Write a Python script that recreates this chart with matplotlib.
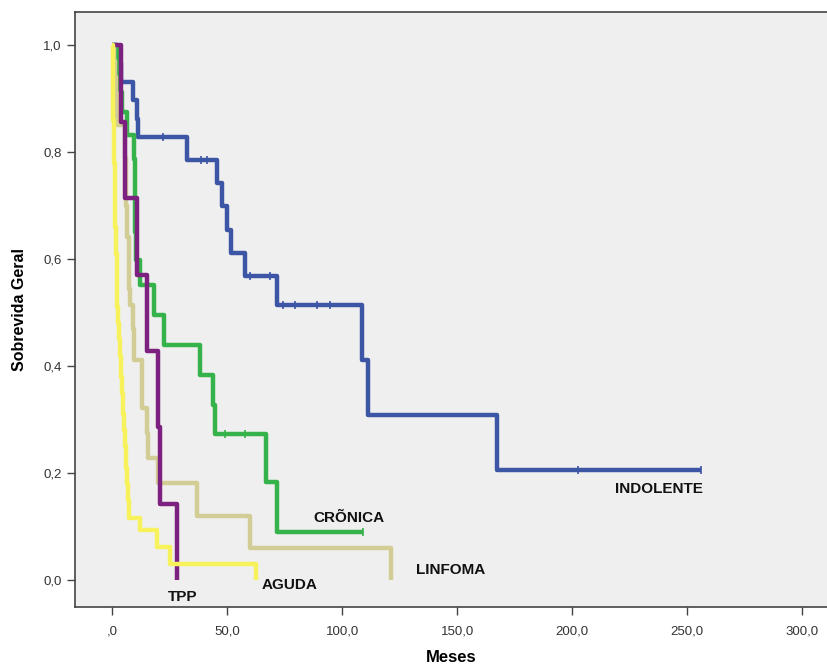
import numpy as np
import matplotlib
matplotlib.use("Agg")
import matplotlib.pyplot as plt

plt.rcParams['font.family'] = ['Liberation Sans', 'DejaVu Sans']

# Kaplan-Meier curves (months, survival after each drop)
indolente_t = [2.0, 3.7, 9.1, 10.5, 11.2, 32.4, 45.7, 47.6, 49.7, 51.6, 57.8, 71.5, 108.5, 111.4, 167.5]
indolente_s = [0.966, 0.931, 0.897, 0.862, 0.828, 0.786, 0.743, 0.699, 0.655, 0.611, 0.568, 0.514, 0.411, 0.308, 0.206]
indolente_end = 256.0
indolente_cens = [22.0, 38.4, 41.0, 59.9, 68.6, 74.4, 79.5, 88.9, 94.8, 202.7, 256.0]

cronica_t = [2.0, 3.0, 4.0, 6.5, 9.4, 9.6, 9.8, 10.0, 10.2, 12.0, 18.2, 22.5, 38.3, 43.9, 44.6, 66.8, 71.5]
cronica_s = [0.957, 0.913, 0.876, 0.832, 0.787, 0.742, 0.70, 0.65, 0.598, 0.551, 0.495, 0.439, 0.383, 0.327, 0.273, 0.184, 0.090]
cronica_end = 109.0
cronica_cens = [49.0, 57.7, 109.0]

linfoma_t = [0.5, 1.0, 1.5, 2.0, 5.4, 5.6, 5.8, 6.0, 6.2, 7.0, 7.2, 7.4, 7.6, 9.1, 9.3, 9.5, 12.7, 14.9, 15.6, 19.8, 36.7, 59.9, 121.2]
linfoma_s = [0.97, 0.94, 0.91, 0.85, 0.82, 0.79, 0.73, 0.70, 0.642, 0.61, 0.576, 0.545, 0.515, 0.47, 0.44, 0.411, 0.321, 0.276, 0.228, 0.181, 0.121, 0.061, 0.0]

tpp_t = [3.7, 5.4, 10.5, 14.9, 19.9, 20.7, 28.0]
tpp_s = [0.857, 0.714, 0.571, 0.429, 0.286, 0.143, 0.0]

aguda_t = [0.2, 0.4, 0.6, 0.9, 1.2, 1.5, 1.8, 2.1, 2.5, 2.9, 3.3, 3.7, 4.1, 4.5, 4.9, 5.3, 5.7, 6.2, 6.7, 7.2, 12.0, 19.3, 25.0, 62.5]
aguda_s = [0.94, 0.86, 0.78, 0.72, 0.66, 0.61, 0.56, 0.51, 0.48, 0.45, 0.42, 0.38, 0.35, 0.31, 0.28, 0.25, 0.21, 0.18, 0.15, 0.116, 0.093, 0.062, 0.031, 0.0]

x_ticks = [0, 50, 100, 150, 200, 250, 300]
x_ticklabels = [",0", "50,0", "100,0", "150,0", "200,0", "250,0", "300,0"]
y_ticks = [0.0, 0.2, 0.4, 0.6, 0.8, 1.0]
y_ticklabels = ["0,0", "0,2", "0,4", "0,6", "0,8", "1,0"]

groups = [
    # name, times, surv, end, censored, colour, label pos
    ("INDOLENTE", indolente_t, indolente_s, indolente_end, indolente_cens, "#3c55a5", (238, 0.170)),
    ("CRÕNICA", cronica_t, cronica_s, cronica_end, cronica_cens, "#35b24a", (103, 0.116)),
    ("LINFOMA", linfoma_t, linfoma_s, None, [], "#d2cc95", (147, 0.019)),
    ("TPP", tpp_t, tpp_s, None, [], "#7d2180", (30.5, -0.032)),
    ("AGUDA", aguda_t, aguda_s, None, [], "#f7f25c", (77, -0.009)),
]


def surv_at(t, times, surv):
    s = 1.0
    for ti, si in zip(times, surv):
        if ti <= t:
            s = si
    return s


fig = plt.figure(figsize=(8.27, 6.71), dpi=100)
ax = fig.add_axes([75/827, 64/671, 752/827, 595/671])
ax.set_facecolor("#efefef")

for name, tt, ss, end, cens, col, (lx, ly) in groups:
    xs = [0.0] + list(tt)
    ys = [1.0] + list(ss)
    if end is not None:
        xs.append(end)
        ys.append(ss[-1])
    ax.plot(xs, ys, drawstyle="steps-post", color=col, lw=3.2, solid_capstyle="butt", zorder=3)
    if cens:
        cy = [surv_at(c, tt, ss) for c in cens]
        ax.plot(cens, cy, ls="none", marker="|", ms=6, mew=1.2, color=col, zorder=4)
    ax.text(lx, ly, name, ha="center", va="center", fontsize=11, fontweight="bold", color="#111111")

ax.set_xlim(-16.3, 311)
ax.set_ylim(-0.05, 1.062)
ax.set_xticks(x_ticks)
ax.set_xticklabels(x_ticklabels)
ax.set_yticks(y_ticks)
ax.set_yticklabels(y_ticklabels)
ax.tick_params(direction="out", length=6, width=1, color="#444444", labelcolor="#333333", labelsize=9.5)
ax.tick_params(axis="x", pad=7)
ax.spines["right"].set_visible(False)
for sp in ["left", "top", "bottom"]:
    ax.spines[sp].set_color("#444444")
    ax.spines[sp].set_linewidth(1.2)

ax.set_xlabel("Meses", fontsize=12, fontweight="bold", labelpad=9)
ax.set_ylabel("Sobrevida Geral", fontsize=11.5, fontweight="bold", labelpad=12)

fig.savefig("out.png", dpi=100)
